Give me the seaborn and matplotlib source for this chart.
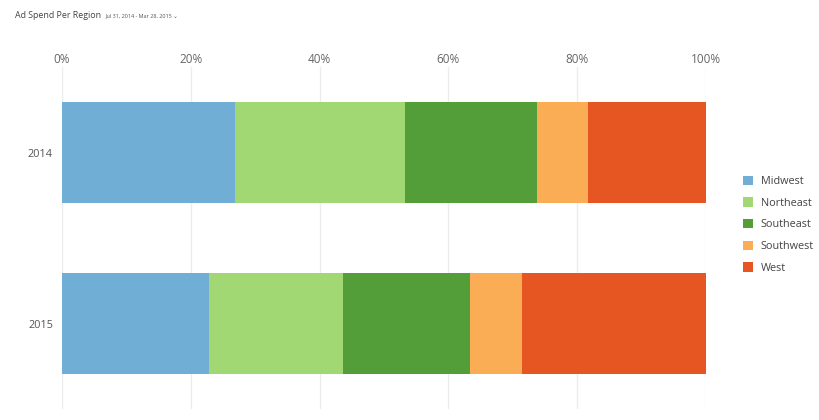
import pandas as pd
import matplotlib.pyplot as plt
import seaborn as sns
from matplotlib.patches import Patch
from matplotlib.ticker import PercentFormatter

years = ["2014", "2015"]
regions = ["Midwest", "Northeast", "Southeast", "Southwest", "West"]
share_2014 = [26.8, 26.5, 20.4, 7.9, 18.4]
share_2015 = [22.8, 20.8, 19.8, 8.1, 28.5]
colors = ["#71aed6", "#a1d873", "#549e39", "#fbad56", "#e55623"]

rows = []
for year, shares in zip(years, [share_2014, share_2015]):
    total = 0
    for region, s in zip(regions, shares):
        total += s
        rows.append({"year": year, "region": region, "cum": total})
df = pd.DataFrame(rows)

sns.set_style("white")
plt.rcParams["font.family"] = ["Open Sans", "DejaVu Sans"]

fig = plt.figure(figsize=(8.2, 4.2), dpi=100)
ax = fig.add_axes([0.0756, 0.026, 0.7854, 0.814])

# stacked look: draw cumulative totals, widest first
for region, color in reversed(list(zip(regions, colors))):
    sub = df[df["region"] == region]
    sns.barplot(data=sub, x="cum", y="year", order=years, color=color,
                width=0.59, orient="h", saturation=1, edgecolor="none", ax=ax)

ax.set_xlim(0, 100)
ax.set_ylim(1.5, -0.5)
ax.xaxis.set_major_formatter(PercentFormatter(decimals=0))
ax.set_xticks([0, 20, 40, 60, 80, 100])
ax.xaxis.tick_top()
ax.tick_params(axis="x", length=0, pad=1, labelsize=8.5, labelcolor="#666666")
ax.tick_params(axis="y", length=0, pad=6.5, labelsize=7.8, labelcolor="#555555")
ax.set_xlabel("")
ax.set_ylabel("")
ax.grid(axis="x", color="#ececec", linewidth=1)
ax.set_axisbelow(True)
for sp in ax.spines.values():
    sp.set_visible(False)

handles = [Patch(facecolor=c, edgecolor="none", label=r) for r, c in zip(regions, colors)]
fig.legend(handles=handles, loc="center left", bbox_to_anchor=(0.894, 0.465),
           frameon=False, fontsize=7.8, handlelength=0.95, handleheight=0.95,
           handletextpad=0.7, labelspacing=0.95, labelcolor="#444444")

fig.text(0.018, 0.962, "Ad Spend Per Region", fontsize=6.4, color="#444444", va="center")
fig.text(0.129, 0.962, "Jul 31, 2014 - Mar 28, 2015 \u2304", fontsize=4.0, color="#555555",
         va="center", family=["Open Sans", "DejaVu Sans"])

fig.savefig("out.png", dpi=100)
